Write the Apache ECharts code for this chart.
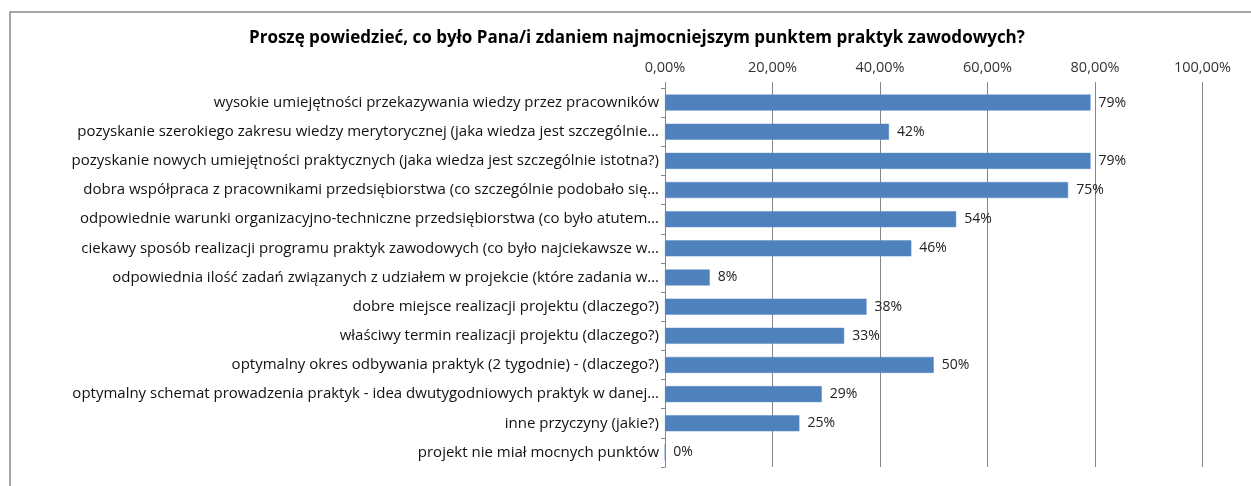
<!DOCTYPE html>
<html>
<head>
<meta charset="utf-8">
<script src="https://cdn.jsdelivr.net/npm/echarts@6/dist/echarts.min.js"></script>
<style>
  html, body { margin: 0; padding: 0; background: #fff; }
  #chart { width: 1251px; height: 486px; }
</style>
</head>
<body>
<div id="chart"></div>
<script>
const titleText = 'Proszę powiedzieć, co było Pana/i zdaniem najmocniejszym punktem praktyk zawodowych?'

const categories = [
  'wysokie umiejętności przekazywania wiedzy przez pracowników',
  'pozyskanie szerokiego zakresu wiedzy merytorycznej (jaka wiedza jest szczególnie…',
  'pozyskanie nowych umiejętności praktycznych (jaka wiedza jest szczególnie istotna?)',
  'dobra współpraca z pracownikami przedsiębiorstwa (co szczególnie podobało się…',
  'odpowiednie warunki organizacyjno-techniczne przedsiębiorstwa (co było atutem…',
  'ciekawy sposób realizacji programu praktyk zawodowych (co było najciekawsze w…',
  'odpowiednia ilość zadań związanych z udziałem w projekcie (które zadania w…',
  'dobre miejsce realizacji projektu (dlaczego?)',
  'właściwy termin realizacji projektu (dlaczego?)',
  'optymalny okres odbywania praktyk (2 tygodnie) - (dlaczego?)',
  'optymalny schemat prowadzenia praktyk - idea dwutygodniowych praktyk w danej…',
  'inne przyczyny (jakie?)',
  'projekt nie miał mocnych punktów'
]

// share of answers, in percent
const values = [79.17, 41.67, 79.17, 75, 54.17, 45.83, 8.33, 37.5, 33.33, 50, 29.17, 25, 0]

const xTicks = [0, 20, 40, 60, 80, 100]

const font = 'Open Sans'
const gridColor = '#868686'

const myChart = echarts.init(document.getElementById('chart'))

const option = {
  backgroundColor: '#fff',
  animation: false,
  title: {
    text: titleText,
    left: 249,
    top: 30,
    padding: 0,
    textStyle: { fontFamily: font, fontSize: 17, fontWeight: 'bold', color: '#000' }
  },
  graphic: [{
    type: 'rect',
    shape: { x: 10, y: 12, width: 1400, height: 800 },
    style: { fill: 'none', stroke: '#8a8a8a', lineWidth: 1.5 },
    silent: true
  }],
  grid: { left: 665, right: 48.5, top: 88, bottom: 19 },
  xAxis: {
    type: 'value',
    position: 'top',
    min: xTicks[0],
    max: xTicks[xTicks.length - 1],
    interval: xTicks[1] - xTicks[0],
    axisLine: { show: false },
    axisTick: { show: true, length: 6, lineStyle: { color: gridColor } },
    splitLine: { show: true, lineStyle: { color: gridColor, width: 1 } },
    axisLabel: {
      margin: 13,
      fontFamily: font, fontSize: 14.5, color: '#333',
      formatter: v => v.toFixed(2).replace('.', ',') + '%'
    }
  },
  yAxis: {
    type: 'category',
    inverse: true,
    data: categories,
    axisLine: { show: true, lineStyle: { color: gridColor } },
    axisTick: { show: true, length: 4, lineStyle: { color: gridColor } },
    axisLabel: { margin: 6, fontFamily: font, fontSize: 15, color: '#111' }
  },
  series: [{
    type: 'bar',
    data: values,
    barCategoryGap: '45%',
    itemStyle: { color: '#4F81BD', borderColor: '#5b8cc6', borderWidth: 0.5 },
    label: {
      show: true,
      position: 'right',
      distance: 8,
      fontFamily: font, fontSize: 14, color: '#222',
      formatter: p => Math.round(p.value) + '%'
    }
  }]
}

myChart.setOption(option)
</script>
</body>
</html>
